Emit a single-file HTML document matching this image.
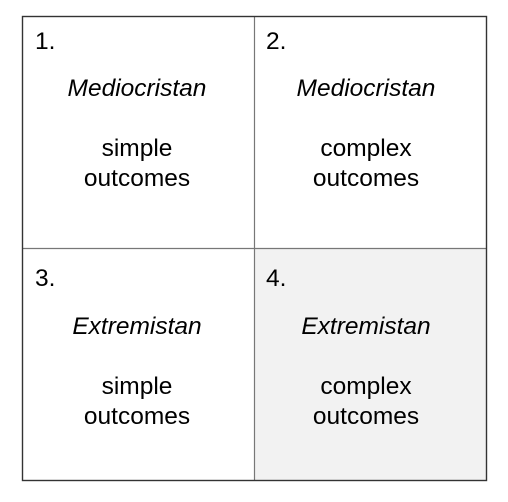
<!DOCTYPE html>
<html><head><style>html,body{margin:0;padding:0;background:#fff;}</style></head>
<body>
<svg width="508" height="502" xmlns="http://www.w3.org/2000/svg" style="display:block">
<rect x="254.5" y="248.5" width="232" height="232" fill="#f2f2f2"/>
<line x1="254.5" y1="16" x2="254.5" y2="481" stroke="#777" stroke-width="1.2"/>
<line x1="22" y1="248.5" x2="487" y2="248.5" stroke="#777" stroke-width="1.2"/>
<rect x="22.5" y="16.5" width="464" height="464" fill="none" stroke="#333" stroke-width="1.4"/>
<g font-family="Liberation Sans, sans-serif" font-size="24.5" fill="#000">
<text x="35" y="49">1.</text>
<text x="266" y="49">2.</text>
<text x="35" y="286">3.</text>
<text x="266" y="286">4.</text>
<g text-anchor="middle">
<text x="137" y="96" font-style="italic">Mediocristan</text>
<text x="366" y="96" font-style="italic">Mediocristan</text>
<text x="137" y="156">simple</text>
<text x="137" y="186">outcomes</text>
<text x="366" y="156">complex</text>
<text x="366" y="186">outcomes</text>
<text x="137" y="334" font-style="italic">Extremistan</text>
<text x="366" y="334" font-style="italic">Extremistan</text>
<text x="137" y="394">simple</text>
<text x="137" y="424">outcomes</text>
<text x="366" y="394">complex</text>
<text x="366" y="424">outcomes</text>
</g></g>
</svg>
</body></html>
